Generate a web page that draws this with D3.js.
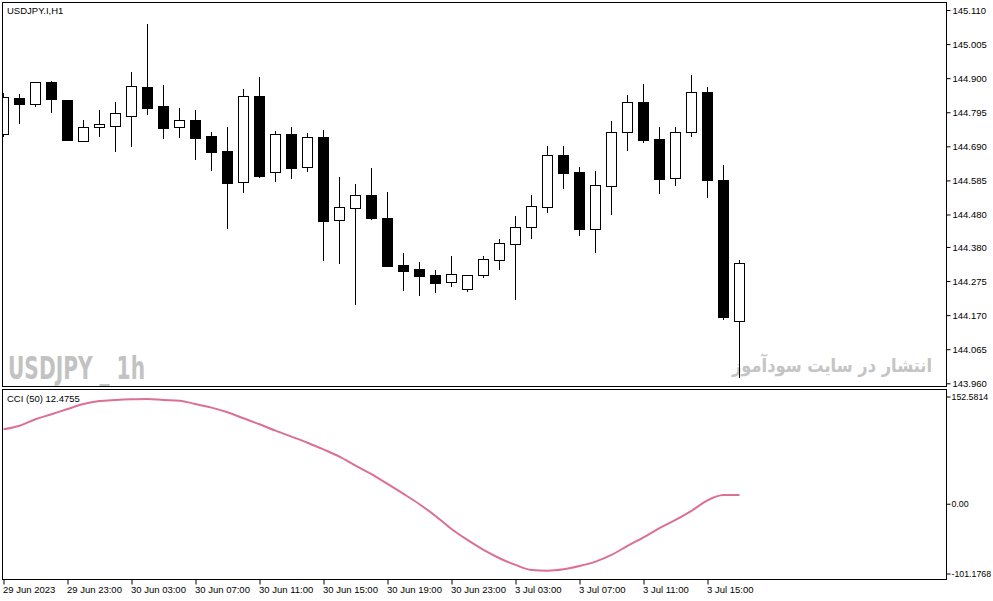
<!DOCTYPE html>
<html>
<head>
<meta charset="utf-8">
<script src="https://d3js.org/d3.v7.min.js"></script>
<style>
    body { margin: 0; background: #fff; }
    svg { display: block; }
</style>
</head>
<body>
<script>
//hourly bars, 29 Jun 2023 19:00 to 3 Jul 2023 17:00
var open = [144.727,144.838,144.820,144.888,144.833,144.706,144.749,144.754,144.784,144.872,
    144.813,144.749,144.770,144.722,144.676,144.581,144.845,144.612,144.727,144.625,
    144.719,144.464,144.501,144.540,144.468,144.323,144.311,144.293,144.271,144.250,
    144.293,144.339,144.388,144.441,144.502,144.663,144.611,144.436,144.567,144.733,
    144.827,144.713,144.592,144.733,144.857,144.586,144.151];
var high = [144.853,144.850,144.889,144.892,144.834,144.771,144.802,144.827,144.919,145.067,
    144.878,144.807,144.801,144.734,144.750,144.866,144.903,144.737,144.750,144.731,
    144.740,144.595,144.574,144.623,144.549,144.361,144.334,144.309,144.352,144.294,
    144.352,144.405,144.475,144.540,144.691,144.691,144.627,144.615,144.768,144.848,
    144.882,144.750,144.750,144.910,144.872,144.632,144.339];
var low = [144.719,144.760,144.812,144.794,144.709,144.705,144.720,144.673,144.689,144.787,
    144.714,144.717,144.649,144.615,144.436,144.547,144.593,144.581,144.590,144.612,
    144.338,144.328,144.202,144.464,144.319,144.245,144.230,144.239,144.258,144.242,
    144.285,144.310,144.218,144.405,144.486,144.558,144.415,144.362,144.479,144.677,
    144.701,144.544,144.569,144.720,144.530,144.154,143.977];
var close = [144.841,144.821,144.888,144.835,144.710,144.749,144.758,144.792,144.875,144.809,
    144.747,144.770,144.717,144.673,144.578,144.844,144.600,144.727,144.624,144.718,
    144.461,144.502,144.539,144.470,144.322,144.307,144.292,144.270,144.296,144.293,
    144.342,144.391,144.441,144.505,144.663,144.609,144.436,144.571,144.733,144.827,
    144.710,144.589,144.733,144.857,144.587,144.164,144.331];

//CCI(50) per bar
var cci = [100.1,104.9,113.5,120.2,127.2,133.9,137.9,139.3,140.2,140.6,
    139.3,138.3,133.9,129.0,122.8,114.8,106.8,98.3,90.3,82.2,
    73.2,63.6,51.5,40.1,27.1,13.8,0.0,-15.6,-33.0,-47.7,
    -61.0,-72.1,-81.0,-87.7,-88.7,-86.8,-82.4,-76.6,-67.7,-55.7,
    -44.3,-32.0,-21.0,-8.9,5.3,12.2,12.4755];

//axis labels
var priceTicks = [145.110,145.005,144.900,144.795,144.690,144.585,144.480,144.380,144.275,144.170,144.065,143.960];
var cciTicks = [152.5814, 0, -101.1768];
var cciTickLabels = ["152.5814", "0.00", "-101.1768"];
var timeTickIdx = [0,4,8,12,16,20,24,28,32,36,40,44];
var timeLabels = ["29 Jun 2023","29 Jun 23:00","30 Jun 03:00","30 Jun 07:00","30 Jun 11:00",
    "30 Jun 15:00","30 Jun 19:00","30 Jun 23:00","3 Jul 03:00","3 Jul 07:00","3 Jul 11:00","3 Jul 15:00"];

window.onload = setChart();

function setChart(){

    var width = 993,
        height = 601;

    var font = "'Liberation Sans', Arial, sans-serif";

    var svg = d3.select("body")
        .append("svg")
        .attr("width", width)
        .attr("height", height);

    svg.append("rect")
        .attr("width", width)
        .attr("height", height)
        .attr("fill", "#fff");

    //scales
    var x = d3.scaleLinear()
        .domain([0, 46])
        .range([3.5, 739.5]);

    var yPrice = d3.scaleLinear()
        .domain([143.960, 145.110])
        .range([383.3, 10]);

    var yCci = d3.scaleLinear()
        .domain([-101.1768, 152.5814])
        .range([580, 390]);

    //clip for each panel
    svg.append("clipPath")
        .attr("id", "mainClip")
        .append("rect")
        .attr("x", 3).attr("y", 3)
        .attr("width", 943).attr("height", 383);

    svg.append("clipPath")
        .attr("id", "cciClip")
        .append("rect")
        .attr("x", 3).attr("y", 390)
        .attr("width", 943).attr("height", 189);

    //watermarks
    svg.append("text")
        .attr("x", 8)
        .attr("y", 379)
        .attr("font-family", "'Liberation Sans Narrow', 'DejaVu Sans Condensed', sans-serif")
        .attr("font-weight", "bold")
        .attr("font-size", 32)
        .attr("textLength", 137)
        .attr("lengthAdjust", "spacingAndGlyphs")
        .attr("fill", "#c2c2c2")
        .text("USDJPY _ 1h");

    svg.append("text")
        .attr("x", 932)
        .attr("y", 372)
        .attr("text-anchor", "end")
        .attr("font-family", "'DejaVu Sans', sans-serif")
        .attr("font-weight", "bold")
        .attr("font-size", 19)
        .attr("textLength", 200)
        .attr("lengthAdjust", "spacingAndGlyphs")
        .attr("fill", "#c4c4c4")
        .text("انتشار در سایت سودآموز");

    //candles
    var bars = d3.range(open.length).map(function(i){
        return {i: i, o: open[i], h: high[i], l: low[i], c: close[i]};
    });

    var candles = svg.append("g")
        .attr("clip-path", "url(#mainClip)")
        .selectAll(".candle")
        .data(bars)
        .enter()
        .append("g")
        .attr("class", "candle");

    candles.append("line")
        .attr("x1", function(d){ return x(d.i); })
        .attr("x2", function(d){ return x(d.i); })
        .attr("y1", function(d){ return Math.round(yPrice(d.h)); })
        .attr("y2", function(d){ return Math.round(yPrice(d.l)); })
        .attr("stroke", "#000")
        .attr("stroke-width", 1);

    candles.append("rect")
        .attr("x", function(d){ return x(d.i) - 5; })
        .attr("y", function(d){ return Math.round(yPrice(Math.max(d.o, d.c))) + 0.5; })
        .attr("width", 10)
        .attr("height", function(d){
            var h = Math.round(yPrice(Math.min(d.o, d.c))) - Math.round(yPrice(Math.max(d.o, d.c)));
            return Math.max(h, 1);
        })
        .attr("fill", function(d){ return d.c >= d.o ? "#fff" : "#000"; })
        .attr("stroke", "#000")
        .attr("stroke-width", 1);

    //cci line
    var line = d3.line()
        .x(function(d, i){ return x(i); })
        .y(function(d){ return yCci(d); })
        .curve(d3.curveMonotoneX);

    svg.append("path")
        .datum(cci)
        .attr("clip-path", "url(#cciClip)")
        .attr("d", line)
        .attr("fill", "none")
        .attr("stroke", "#db7093")
        .attr("stroke-width", 2);

    //panel frames
    svg.append("rect")
        .attr("x", 2.5).attr("y", 2.5)
        .attr("width", 944).attr("height", 384)
        .attr("fill", "none")
        .attr("stroke", "#000");

    svg.append("rect")
        .attr("x", 2.5).attr("y", 389.5)
        .attr("width", 944).attr("height", 190)
        .attr("fill", "none")
        .attr("stroke", "#000");

    //price axis
    var priceAxis = svg.append("g")
        .attr("transform", "translate(946.5,0)")
        .call(d3.axisRight(yPrice)
            .tickValues(priceTicks)
            .tickSize(4)
            .tickPadding(2)
            .tickFormat(d3.format(".3f")));

    //cci axis
    var cciAxis = svg.append("g")
        .attr("transform", "translate(946.5,0)")
        .call(d3.axisRight(yCci)
            .tickValues(cciTicks)
            .tickSize(4)
            .tickPadding(1)
            .tickFormat(function(d, i){ return cciTickLabels[i]; }));

    //min and max labels sit inside the panel
    cciAxis.selectAll(".tick")
        .attr("transform", function(d){
            var y = yCci(d);
            if (d === cciTicks[0]) y += 7;
            if (d === cciTicks[2]) y -= 6;
            return "translate(0," + y + ")";
        });

    //time axis
    var timeAxis = svg.append("g")
        .attr("transform", "translate(0,579.5)")
        .call(d3.axisBottom(x)
            .tickValues(timeTickIdx)
            .tickSize(5)
            .tickPadding(2)
            .tickFormat(function(d, i){ return timeLabels[i]; }));

    timeAxis.selectAll("text")
        .attr("text-anchor", "start")
        .attr("dx", -1);

    [priceAxis, cciAxis, timeAxis].forEach(function(g){
        g.select(".domain").remove();
        g.attr("font-family", font).attr("font-size", 9.5);
        g.selectAll("text").attr("fill", "#000");
        g.selectAll("line").attr("stroke", "#000");
    });
    cciAxis.attr("font-size", 8.8);

    //labels
    svg.append("text")
        .attr("x", 7)
        .attr("y", 14)
        .attr("font-family", font)
        .attr("font-size", 9.5)
        .attr("fill", "#000")
        .text("USDJPY.I,H1");

    svg.append("text")
        .attr("x", 7)
        .attr("y", 402)
        .attr("font-family", font)
        .attr("font-size", 9.5)
        .attr("fill", "#000")
        .text("CCI (50) " + cci[cci.length - 1].toFixed(4));
};
</script>
</body>
</html>
